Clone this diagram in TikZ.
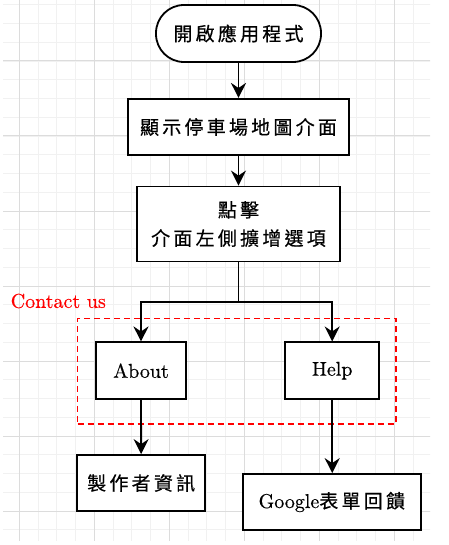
\documentclass[tikz,border=0pt]{standalone}
\usepackage{fontspec}
\setmainfont{lmroman10-regular}[Extension=.otf,FakeBold=0.4]
\newfontfamily\cjk[LetterSpace=17,FakeBold=0.5]{Noto Sans CJK TC}
\usetikzlibrary{arrows.meta,calc}
\definecolor{gridminor}{HTML}{F1F1F1}
\definecolor{gridmajor}{HTML}{DCDCDC}
\tikzset{
  minorline/.style={draw=gridminor, line width=0.9pt},
  majorline/.style={draw=gridmajor, line width=1pt},
  stepbox/.style={draw, line width=1.8pt, fill=white, inner sep=0pt,
    font=\fontsize{19}{28.3}\selectfont\cjk, align=center},
  termbox/.style={stepbox, rounded corners=28pt},
  latinbox/.style={stepbox, font=\fontsize{20}{24}\selectfont\rmfamily},
  flow/.style={line width=1.8pt, -{Stealth[length=15pt,width=15pt,inset=5pt]}},
  plain/.style={line width=1.8pt},
  groupbox/.style={draw=red, dashed, line width=1.4pt, dash pattern=on 6pt off 4pt, inner sep=0pt},
}
\begin{document}
\begin{tikzpicture}[x=1pt,y=-1pt]
\useasboundingbox (0,0) rectangle (448,545);
% background grid
\begin{scope}
  \clip (3,0) rectangle (430,540);
  \foreach \k in {-1,...,23} \draw[minorline] ({19.3+18.75*\k},0) -- ++(0,545);
  \foreach \k in {-4,...,27} \draw[minorline] (0,{61+18.75*\k}) -- ++(448,0);
  \foreach \k in {0,...,5} \draw[majorline] ({19.3+75*\k},0) -- ++(0,545);
  \foreach \k in {-1,...,6} \draw[majorline] (0,{61+75*\k}) -- ++(448,0);
\end{scope}

% contact group frame and its label
\node[groupbox, minimum width=318.3pt, minimum height=105.7pt] (contact) at (236.85,371.15) {};
\node[text=red, font=\fontsize{20}{24}\selectfont, inner sep=0pt] (contactlabel) at (58.3,301) {Contact us};

% flow steps
\node[termbox, minimum width=165pt, minimum height=57pt] (start) at (238.5,33.5) {開啟應用程式};
\node[stepbox, minimum width=221.6pt, minimum height=56.3pt] (map) at (238.5,127) {顯示停車場地圖介面};
\node[stepbox, minimum width=202.4pt, minimum height=75pt] (tap) at (238.5,224) {點擊\\介面左側擴增選項};
\node[latinbox, minimum width=90pt, minimum height=56.7pt] (about) at (141,370.7) {About};
\node[latinbox, minimum width=94.3pt, minimum height=56.7pt] (help) at (332.2,370.7) {Help};
\node[stepbox, minimum width=127.7pt, minimum height=56pt] (credits) at (141.2,483) {製作者資訊};
\node[latinbox, minimum width=178.3pt, minimum height=56pt] (feedback) at (331.8,502) {Google{\fontsize{19}{24}\selectfont\cjk 表單回饋}};

% connectors
\coordinate (split) at (238.5,302.3);
\draw[flow] (start) -- (map);
\draw[flow] (map) -- (tap);
\draw[plain] (tap.south) -- (split);
\draw[flow] (split) -| (about.north);
\draw[flow] (split) -| (help.north);
\draw[flow] (about) -- (credits);
\draw[flow] (help.south) -- (help.south |- feedback.north);
\end{tikzpicture}
\end{document}
